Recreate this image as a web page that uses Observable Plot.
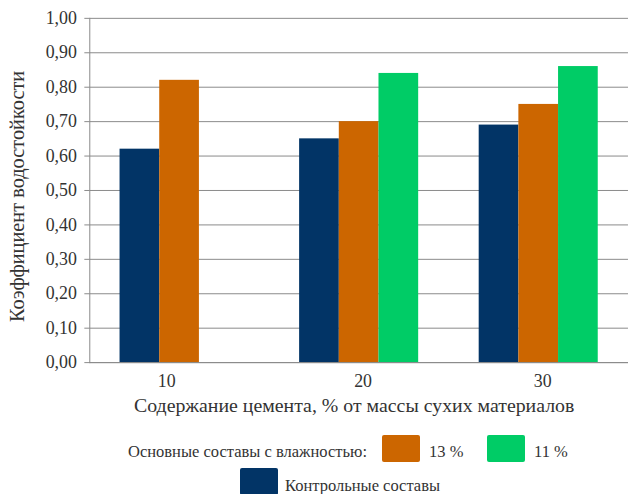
<!DOCTYPE html>
<html>
<head>
<meta charset="utf-8">
<script src="https://cdn.jsdelivr.net/npm/d3@7"></script>
<script src="https://cdn.jsdelivr.net/npm/@observablehq/plot@0.6"></script>
<style>
  html, body { margin: 0; padding: 0; background: #fff; overflow: hidden; }
  #wrap { position: relative; width: 628px; height: 494px; overflow: hidden; }
  #chart svg { display: block; }
  .legend { position: absolute; font-family: "Times New Roman", "Liberation Serif", "DejaVu Serif", serif; font-size: 16.5px; line-height: 16px; color: #333; white-space: nowrap; }
  .sw { position: absolute; width: 38px; height: 27px; border-radius: 2px; box-sizing: border-box; }
</style>
</head>
<body>
<div id="wrap">
  <div id="chart"></div>
  <div id="legend"></div>
</div>
<script>
// Cement content, % of dry mass
const cement = ["10", "20", "30"];
// Water resistance coefficient per series
const control = [0.62, 0.65, 0.69];
const moist13 = [0.82, 0.70, 0.75];
const moist11 = [null, 0.84, 0.86];
const yTicks = [0, 0.1, 0.2, 0.3, 0.4, 0.5, 0.6, 0.7, 0.8, 0.9, 1.0];

const seriesNames = ["Контрольные составы", "13 %", "11 %"];
const seriesColors = ["#023466", "#cc6600", "#00cc66"];
const yTitle = "Коэффициент водостойкости";
const xTitle = "Содержание цемента, % от массы сухих материалов";

const rows = (values) => cement
  .map((c, i) => ({cement: c, value: values[i]}))
  .filter((d) => d.value != null);

const slot = 40; // width of one bar inside a group
const fmt = (d) => d.toFixed(2).replace(".", ",");
const serif = "'Times New Roman', 'Liberation Serif', 'DejaVu Serif', serif";

const chart = Plot.plot({
  width: 633,
  height: 425,
  marginLeft: 90,
  marginRight: 0,
  marginTop: 18,
  marginBottom: 60,
  style: {fontFamily: serif, fontSize: "18px", color: "#333", background: "#fff"},
  x: {domain: cement, paddingInner: 0.337, paddingOuter: 0.1685, round: false},
  y: {domain: [0, 1]},
  marks: [
    Plot.gridY(yTicks, {stroke: "#8a8a8a", strokeOpacity: 1}),
    Plot.barY(rows(control), {x: "cement", y: "value", fill: seriesColors[0], insetLeft: 0, insetRight: 2 * slot}),
    Plot.barY(rows(moist13), {x: "cement", y: "value", fill: seriesColors[1], insetLeft: slot, insetRight: slot}),
    Plot.barY(rows(moist11), {x: "cement", y: "value", fill: seriesColors[2], insetLeft: 2 * slot, insetRight: 0}),
    Plot.frame({anchor: "left", stroke: "#8a8a8a"}),
    Plot.ruleY([0], {stroke: "#8a8a8a"}),
    Plot.axisY(yTicks, {tickSize: 5, tickPadding: 8, stroke: "#8a8a8a", tickFormat: fmt, label: null}),
    Plot.axisX(["10"], {tickSize: 0, tickPadding: 12, dx: -13, label: null}),
    Plot.axisX(["20", "30"], {tickSize: 0, tickPadding: 12, dx: 4, label: null}),
    // Axis titles
    Plot.text([yTitle], {frameAnchor: "left", rotate: -90, dx: -73, dy: 6, lineAnchor: "middle", textAnchor: "middle", fontSize: 20.5, fill: "#333"}),
    Plot.text([xTitle], {frameAnchor: "bottom", dx: -5, dy: 43, lineAnchor: "middle", textAnchor: "middle", fontSize: 20, fill: "#333"})
  ]
});
document.getElementById("chart").append(chart);

// Legend below the plot
const legend = document.getElementById("legend");
function addText(text, left, top) {
  const el = document.createElement("div");
  el.className = "legend";
  el.textContent = text;
  el.style.left = left + "px";
  el.style.top = top + "px";
  legend.append(el);
}
function addSwatch(color, left, top) {
  const el = document.createElement("div");
  el.className = "sw";
  el.style.background = color;
  el.style.left = left + "px";
  el.style.top = top + "px";
  legend.append(el);
}
addText("Основные составы с влажностью:", 128, 444);
addSwatch(seriesColors[1], 382, 435);
addText(seriesNames[1], 429, 444);
addSwatch(seriesColors[2], 487, 435);
addText(seriesNames[2], 534, 444);
addSwatch(seriesColors[0], 240, 468);
addText(seriesNames[0], 285, 478);
</script>
</body>
</html>
